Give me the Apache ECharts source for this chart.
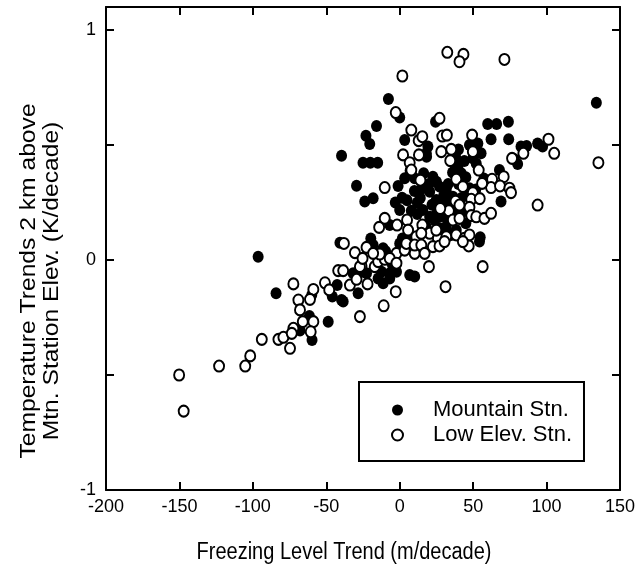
<!DOCTYPE html>
<html><head><meta charset="utf-8">
<script src="https://cdn.jsdelivr.net/npm/echarts@6/dist/echarts.min.js"></script>
<style>html,body{margin:0;padding:0;background:#fff}#c{width:644px;height:571px}</style>
</head><body><div id="c"></div>
<script>
const seriesNames = ['Mountain Stn.', 'Low Elev. Stn.'];
const xTitle = 'Freezing Level Trend (m/decade)';
const yTitle = ['Temperature Trends 2 km above', 'Mtn. Station Elev. (K/decade)'];
const yTickLabels = {'-1': '-1', '0': '0', '1': '1'};

// Mountain stations (filled): [freezing level trend, temperature trend]
const mountainPts = [
 [-7.7,0.70],[133.9,0.684],[0,0.62],[-15.8,0.583],[24.4,0.601],[59.9,0.591],[66,0.591],[74,0.601],
 [-23,0.54],[-20.4,0.504],[-39.6,0.453],[-25,0.423],[-20,0.423],[-15,0.423],
 [3.4,0.522],[62.2,0.525],[74.2,0.525],
 [19.2,0.493],[18.1,0.464],[47.5,0.50],[53.2,0.507],[55.4,0.464],[82.6,0.493],[86.4,0.496],[78.1,0.438],[80.3,0.417],[93.9,0.507],[97.3,0.493],
 [16.3,0.377],[22.6,0.362],[39.6,0.406],[41.9,0.377],[49.8,0.442],[52.1,0.42],[67.9,0.391],
 [-29.4,0.323],[-1.1,0.322],[3.4,0.355],[10.2,0.355],[-23.8,0.254],[-18.1,0.268],[1.6,0.271],[0,0.217],[7.9,0.214],
 [-6.8,0.152],[1.8,0.094],[7.9,0.094],[-19.7,0.094],[-40.7,0.075],
 [47.5,0.312],[27.1,0.319],[31.7,0.304],[36.2,0.275],[20.4,0.297],[24.9,0.261],[69,0.254],
 [15.8,0.217],[20.4,0.188],[18.1,0.145],[23.8,0.174],[27.1,0.188],[43,0.21],[31.7,0.145],[38.5,0.13],[35.1,0.109],[27.1,0.138],[54.8,0.099],
 [43.4,0.354],[57.3,0.354],[46.2,0.291],[51.8,0.307],[37.8,0.394],[7.1,0.389],[18.3,0.449],[40,0.33],[33,0.25],[30,0.23],
 [28,0.26],[35,0.21],[42,0.27],[22,0.24],[12,0.2],[30,0.28],
 [38,0.45],[40,0.48],[44,0.43],[36,0.38],[45,0.36],[20,0.33],[15,0.31],[25,0.34],[33,0.33],[10,0.3],
 [5,0.26],[12,0.25],[25,0.2],[38,0.2],[32,0.18],[45,0.16],[14,0.27],[-3,0.25],
 [-96.4,0.014],[-84.2,-0.145],[-59.9,-0.152],[-61.5,-0.243],[-67.9,-0.307],[-59.7,-0.348],[-45.9,-0.159],[-39.6,-0.174],[-38.5,-0.18],
 [-48.7,-0.268],[-42.6,-0.109],[-31.7,-0.058],[-28.3,-0.145],[-26,-0.051],[-22.6,-0.058],[-14.7,-0.08],[-11.3,-0.101],
 [-6.8,-0.08],[-12.4,-0.051],[-6.8,-0.058],[-2.2,-0.051],[6.8,-0.065],[10.2,-0.072],[-18.1,0.065],[-11.3,0.051],[0,0.072],[6.8,0.058],
 [54.3,0.08],[-9.6,0.038],[-5,-0.02]
];

// Low elevation stations (open)
const lowPts = [
 [32.4,0.903],[43.4,0.894],[40.7,0.862],[71.3,0.872],[1.8,0.80],[-2.7,0.641],[27.1,0.616],[7.9,0.565],
 [12.9,0.519],[2.3,0.457],[6.8,0.423],[13.1,0.457],[15.4,0.536],[29,0.539],[32.1,0.543],[28.3,0.471],[35.1,0.481],[49.3,0.543],[49.8,0.471],
 [84.2,0.464],[76.5,0.442],[101.3,0.525],[105.2,0.464],[135.3,0.423],
 [-10.2,0.315],[7.9,0.391],[34.4,0.432],[53.8,0.391],
 [70.8,0.362],[62.9,0.351],[62.2,0.315],[68.3,0.322],[74.7,0.312],[75.8,0.293],[56.1,0.333],[49.8,0.293],[38.5,0.351],[43,0.319],
 [38,0.256],[48.7,0.264],[47.5,0.229],[93.9,0.239],[14.1,0.347],[54.5,0.267],
 [33.5,0.214],[27.6,0.224],[40.7,0.239],[36.2,0.174],[40.7,0.181],[48.7,0.193],[52.1,0.188],[57.7,0.181],[62.2,0.203],
 [15.4,0.152],[20.4,0.116],[26,0.094],[31.7,0.101],[38.5,0.109],[44.1,0.094],[24.9,0.13],[47.5,0.109],
 [-10.2,0.181],[-14,0.142],[-1.8,0.152],[5,0.174],[5.7,0.13],[11.3,0.101],[14.7,0.116],
 [-38,0.072],[-30.5,0.032],[-22.6,0.055],[-26,-0.026],[-41.9,-0.046],[-38.5,-0.046],[-50.9,-0.099],[-72.4,-0.104],[-58.8,-0.128],
 [-61.1,-0.171],[-69,-0.174],[-67.9,-0.217],[-58.8,-0.268],[-66,-0.268],[-72.4,-0.297],[-60.6,-0.312],[-74.7,-0.384],
 [-33.9,-0.109],[-29.4,-0.084],[-21.9,-0.104],[-27.1,-0.029],[-17,-0.029],[-14.7,-0.007],[-10.2,0.003],[-13.6,0.026],[-18.1,0.029],[-25.3,0.007],
 [-2.2,0.029],[3.4,0.043],[10.2,0.029],[-6.8,0.007],[-2.2,-0.014],[-2.7,-0.138],[-10.9,-0.199],[-27.1,-0.246],
 [4.5,0.072],[10.2,0.065],[14.7,0.065],
 [17,0.029],[22.6,0.058],[27.1,0.061],[30.5,0.08],[19.9,-0.029],[31.2,-0.116],[56.5,-0.029],[47,0.061],[43,0.08],
 [-93.9,-0.345],[-82.6,-0.345],[-79.2,-0.336],[-73.5,-0.319],[-101.8,-0.417],[-105.2,-0.461],[-123,-0.461],[-150.2,-0.50],[-147.1,-0.657],[-48,-0.13]
];

const FONT = '"Liberation Sans", Arial, Helvetica, sans-serif';
const chart = echarts.init(document.getElementById('c'), null, {renderer: 'canvas'});
const gridL = 106, gridR = 24, gridT = 7, gridB = 81;
const axisCommon = {
  type: 'value', min: -200, max: 150, interval: 50,
  axisLine: {show: true, onZero: false, lineStyle: {color: '#000', width: 2}},
  axisTick: {show: true, inside: true, length: 8, lineStyle: {color: '#000', width: 2}},
  splitLine: {show: false}
};
const yCommon = {
  type: 'value', min: -1, max: 1.1, interval: 0.5,
  axisLine: {show: true, onZero: false, lineStyle: {color: '#000', width: 2}},
  axisTick: {show: true, inside: true, length: 8, lineStyle: {color: '#000', width: 2}},
  splitLine: {show: false}
};
chart.setOption({
  animation: false,
  backgroundColor: '#fff',
  textStyle: {fontFamily: FONT},
  grid: {left: gridL, right: gridR, top: gridT, bottom: gridB},
  xAxis: [
    Object.assign({}, axisCommon, {position: 'bottom',
      axisLabel: {show: true, color: '#000', fontSize: 18, fontFamily: FONT, margin: 8}}),
    Object.assign({}, axisCommon, {position: 'top', axisLabel: {show: false}})
  ],
  yAxis: [
    Object.assign({}, yCommon, {position: 'left',
      axisLabel: {show: true, color: '#000', fontSize: 18, fontFamily: FONT, margin: 10,
        formatter: v => { const k = String(Math.round(v * 100) / 100); return yTickLabels[k] !== undefined && Math.abs(v - Math.round(v)) < 1e-9 ? yTickLabels[k] : ''; }}}),
    Object.assign({}, yCommon, {position: 'right', axisLabel: {show: false}})
  ],
  legend: {
    orient: 'vertical', left: 359, top: 382,
    data: seriesNames,
    backgroundColor: '#fff', borderColor: '#000', borderWidth: 2,
    padding: [17, 12, 15, 32], itemGap: 3, itemWidth: 11, itemHeight: 11,
    textStyle: {color: '#000', fontSize: 22, fontFamily: FONT, padding: [0, 0, 0, 25]}
  },
  series: [
    {name: seriesNames[0], type: 'scatter', data: mountainPts, symbol: 'circle', symbolSize: [11, 12],
      itemStyle: {color: '#000', opacity: 1}, xAxisIndex: 0, yAxisIndex: 0},
    {name: seriesNames[1], type: 'scatter', data: lowPts, symbol: 'circle', symbolSize: [10, 11],
      itemStyle: {color: '#fff', borderColor: '#000', borderWidth: 2, opacity: 1}, xAxisIndex: 0, yAxisIndex: 0}
  ],
  graphic: [
    {type: 'text', x: 344, y: 553, scaleY: 1.15,
      style: {text: xTitle, fill: '#000', font: '20px ' + FONT, align: 'center', verticalAlign: 'middle'}},
    {type: 'text', x: 40, y: 281, rotation: Math.PI / 2, scaleX: 1.12,
      style: {text: yTitle.join('\n'), fill: '#000', font: '22px ' + FONT, align: 'center', verticalAlign: 'middle', lineHeight: 23}}
  ]
});
</script></body></html>
